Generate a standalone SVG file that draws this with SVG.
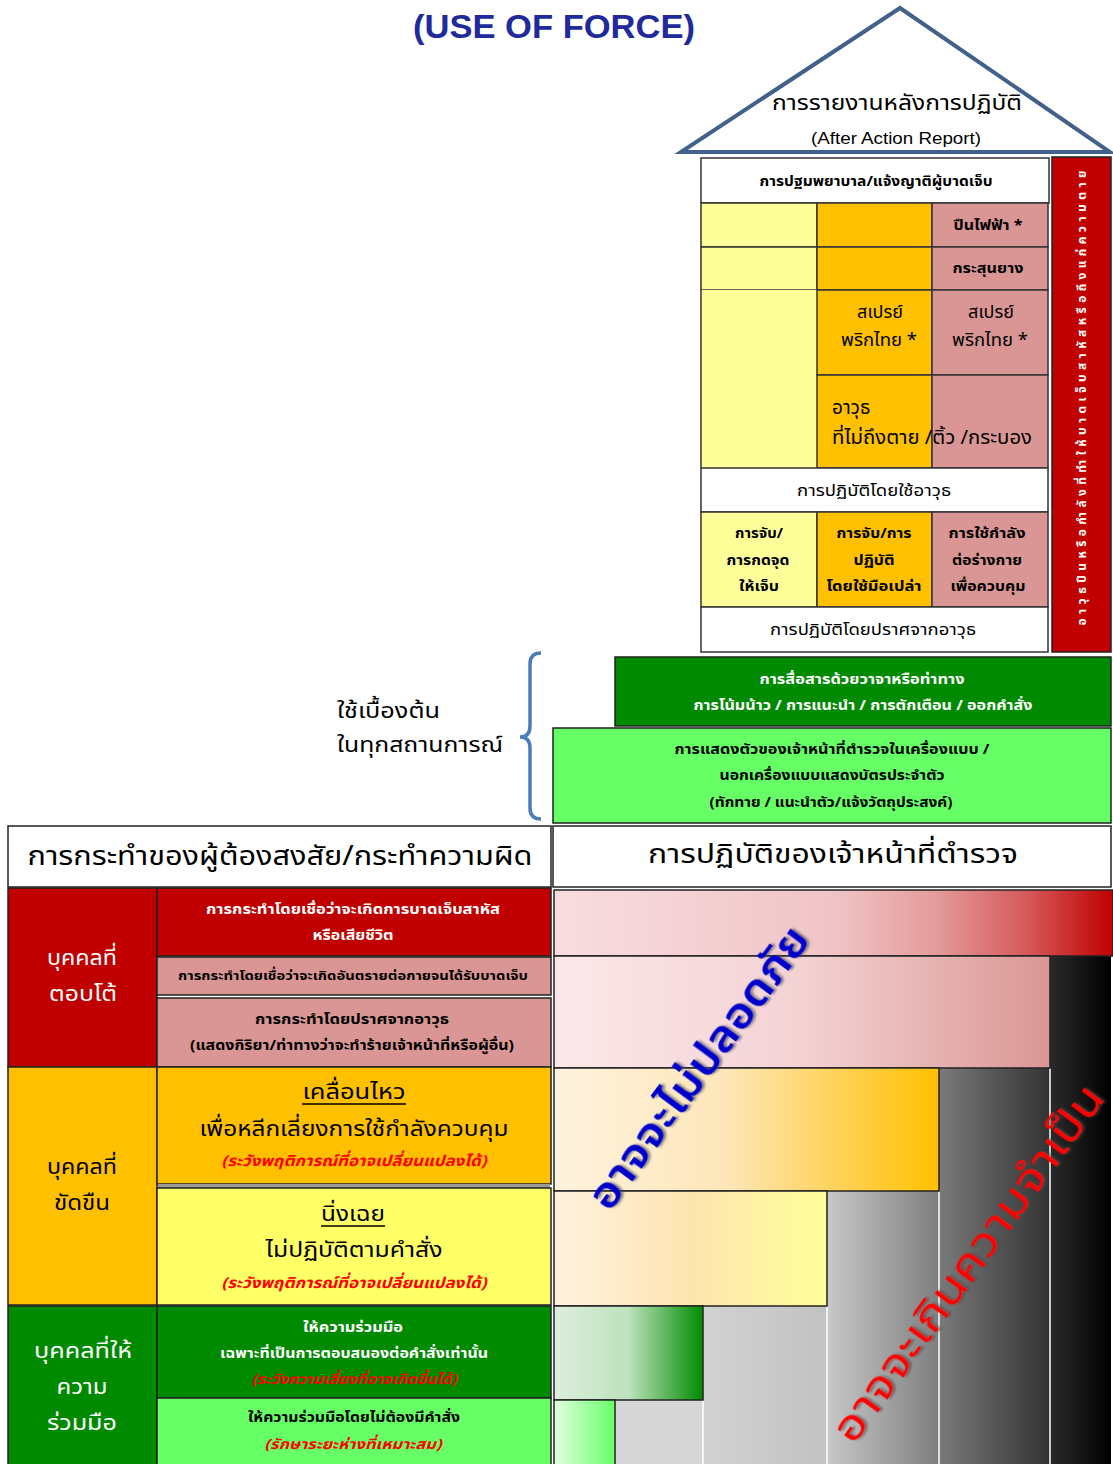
<svg xmlns="http://www.w3.org/2000/svg" width="1113" height="1464" viewBox="0 0 1113 1464">
<defs>
<style>
.t{font-family:"Noto Sans Thai","Noto Sans","Liberation Sans","DejaVu Sans",sans-serif;text-anchor:middle;fill:#000}
.s{text-anchor:start}
.b{font-weight:bold}
.w{fill:#fff}
.ri{fill:#ff0000;font-style:italic;font-weight:bold}
.cell{stroke:#333;stroke-width:1.5}
.box{stroke:#222;stroke-width:1.5}
</style>
<linearGradient id="gRed" x1="0" x2="1" y1="0" y2="0"><stop offset="0" stop-color="#f8dde0"/><stop offset="0.5" stop-color="#f0c4c6"/><stop offset="0.68" stop-color="#e49c9c"/><stop offset="0.85" stop-color="#d45858"/><stop offset="1" stop-color="#c00000"/></linearGradient>
<linearGradient id="gPink" x1="0" x2="1"><stop offset="0" stop-color="#fbe8ea"/><stop offset="0.5" stop-color="#f4d2d4"/><stop offset="1" stop-color="#da9694"/></linearGradient>
<linearGradient id="gOrange" x1="0" x2="1"><stop offset="0" stop-color="#fff3de"/><stop offset="0.45" stop-color="#fde6b8"/><stop offset="1" stop-color="#ffc000"/></linearGradient>
<linearGradient id="gYellow" x1="0" x2="1"><stop offset="0" stop-color="#fff2de"/><stop offset="0.5" stop-color="#fee4b0"/><stop offset="1" stop-color="#ffff99"/></linearGradient>
<linearGradient id="gGreen" x1="0" x2="1"><stop offset="0" stop-color="#ddeedd"/><stop offset="0.5" stop-color="#bde2bd"/><stop offset="1" stop-color="#008c00"/></linearGradient>
<linearGradient id="gLGreen" x1="0" x2="1"><stop offset="0" stop-color="#e2ffe2"/><stop offset="1" stop-color="#66ff66"/></linearGradient>
<linearGradient id="gBlack" x1="0" x2="1"><stop offset="0" stop-color="#2a2a2a"/><stop offset="1" stop-color="#000"/></linearGradient>
<linearGradient id="gGrey1" x1="0" x2="1"><stop offset="0" stop-color="#7a7a7a"/><stop offset="1" stop-color="#333"/></linearGradient>
<linearGradient id="gGrey2" x1="0" x2="1"><stop offset="0" stop-color="#c8c8c8"/><stop offset="1" stop-color="#7e7e7e"/></linearGradient>
<linearGradient id="gGrey3" x1="0" x2="1"><stop offset="0" stop-color="#d2d2d2"/><stop offset="1" stop-color="#c2c2c2"/></linearGradient>
<filter id="sh" x="-10%" y="-10%" width="120%" height="120%"><feDropShadow dx="2" dy="2" stdDeviation="1" flood-color="#444" flood-opacity="0.6"/></filter>
</defs>
<rect width="1113" height="1464" fill="#fff"/>

<g id="title"><text x="554" y="38" font-family="Liberation Sans, Arial, sans-serif" font-weight="bold" font-size="33" text-anchor="middle" fill="#1f2a9c" textLength="282" lengthAdjust="spacingAndGlyphs">(USE OF FORCE)</text></g>

<g id="roof">
<polygon points="900,8 681,152 1110,152" fill="#fff" stroke="#41618a" stroke-width="4" stroke-linejoin="miter"/>
<text class="t" x="897" y="110" font-size="22" textLength="250" lengthAdjust="spacingAndGlyphs">การรายงานหลังการปฏิบัติ</text>
<text x="896" y="144" font-family="Liberation Sans, Arial, sans-serif" font-size="17" text-anchor="middle" textLength="170" lengthAdjust="spacingAndGlyphs">(After Action Report)</text>
</g>

<g id="table">
<rect class="cell" x="701" y="158" width="348" height="45" fill="#fff"/>
<text class="t b" x="876" y="186" font-size="13.5" textLength="233" lengthAdjust="spacingAndGlyphs">การปฐมพยาบาล/แจ้งญาติผู้บาดเจ็บ</text>
<rect class="cell" x="701" y="203" width="116" height="44" fill="#ffff99"/>
<rect class="cell" x="817" y="203" width="115" height="44" fill="#ffc000"/>
<rect class="cell" x="932" y="203" width="116" height="44" fill="#da9694"/>
<text class="t b" x="988" y="230" font-size="14" textLength="69" lengthAdjust="spacingAndGlyphs">ปืนไฟฟ้า *</text>
<rect class="cell" x="701" y="247" width="116" height="43" fill="#ffff99"/>
<rect class="cell" x="817" y="247" width="115" height="43" fill="#ffc000"/>
<rect class="cell" x="932" y="247" width="116" height="43" fill="#da9694"/>
<text class="t b" x="988" y="273" font-size="14" textLength="71" lengthAdjust="spacingAndGlyphs">กระสุนยาง</text>
<rect x="701" y="290" width="116" height="178" fill="#ffff99"/>
<rect class="cell" x="817" y="290" width="115" height="85" fill="#ffc000"/>
<rect class="cell" x="932" y="290" width="116" height="85" fill="#da9694"/>
<text class="t" x="880" y="318" font-size="18">สเปรย์</text>
<text class="t" x="879" y="346" font-size="18" textLength="76" lengthAdjust="spacingAndGlyphs">พริกไทย *</text>
<text class="t" x="991" y="318" font-size="18">สเปรย์</text>
<text class="t" x="990" y="346" font-size="18" textLength="76" lengthAdjust="spacingAndGlyphs">พริกไทย *</text>
<rect class="cell" x="817" y="375" width="115" height="93" fill="#ffc000"/>
<rect class="cell" x="932" y="375" width="116" height="93" fill="#da9694"/>
<line class="cell" x1="701" y1="290" x2="701" y2="468"/>
<text class="t s" x="832" y="414" font-size="19">อาวุธ</text>
<text class="t s" x="832" y="444" font-size="19" textLength="200" lengthAdjust="spacingAndGlyphs">ที่ไม่ถึงตาย /ติ้ว /กระบอง</text>
<rect class="cell" x="701" y="468" width="347" height="44" fill="#fff"/>
<text class="t" x="874" y="496" font-size="16.5" textLength="154" lengthAdjust="spacingAndGlyphs">การปฏิบัติโดยใช้อาวุธ</text>
<rect class="cell" x="701" y="512" width="116" height="95" fill="#ffff99"/>
<rect class="cell" x="817" y="512" width="115" height="95" fill="#ffc000"/>
<rect class="cell" x="932" y="512" width="116" height="95" fill="#da9694"/>
<text class="t b" x="759" y="538" font-size="14" textLength="48" lengthAdjust="spacingAndGlyphs">การจับ/</text>
<text class="t b" x="758" y="565" font-size="14" textLength="63" lengthAdjust="spacingAndGlyphs">การกดจุด</text>
<text class="t b" x="759" y="591" font-size="14" textLength="40" lengthAdjust="spacingAndGlyphs">ให้เจ็บ</text>
<text class="t b" x="874" y="538" font-size="14" textLength="75" lengthAdjust="spacingAndGlyphs">การจับ/การ</text>
<text class="t b" x="874" y="565" font-size="14" textLength="41" lengthAdjust="spacingAndGlyphs">ปฏิบัติ</text>
<text class="t b" x="874" y="591" font-size="14" textLength="95" lengthAdjust="spacingAndGlyphs">โดยใช้มือเปล่า</text>
<text class="t b" x="987" y="538" font-size="14" textLength="77" lengthAdjust="spacingAndGlyphs">การใช้กำลัง</text>
<text class="t b" x="987" y="565" font-size="14" textLength="70" lengthAdjust="spacingAndGlyphs">ต่อร่างกาย</text>
<text class="t b" x="988" y="591" font-size="14" textLength="75" lengthAdjust="spacingAndGlyphs">เพื่อควบคุม</text>
<rect class="cell" x="701" y="607" width="347" height="45" fill="#fff"/>
<text class="t" x="873" y="635" font-size="16.5" textLength="206" lengthAdjust="spacingAndGlyphs">การปฏิบัติโดยปราศจากอาวุธ</text>
</g>

<g id="redbar">
<rect class="box" x="1052" y="157" width="59" height="495" fill="#c00000"/>
<text class="t b w" transform="translate(1086,398) rotate(-90)" font-size="12" textLength="455" lengthAdjust="spacing">อาวุธปืนหรือกำลังที่ทำให้บาดเจ็บสาหัสหรือถึงแก่ความตาย</text>
</g>

<g id="comm">
<rect class="box" x="615" y="657" width="496" height="69" fill="#008a00"/>
<text class="t b w" x="862" y="684" font-size="13.5" textLength="205" lengthAdjust="spacingAndGlyphs">การสื่อสารด้วยวาจาหรือท่าทาง</text>
<text class="t b w" x="863" y="710" font-size="13.5" textLength="339" lengthAdjust="spacingAndGlyphs">การโน้มน้าว  / การแนะนำ / การตักเตือน / ออกคำสั่ง</text>
</g>

<g id="presence">
<rect class="box" x="553" y="728" width="558" height="95" fill="#66ff66"/>
<text class="t b" x="832" y="754" font-size="13.5" textLength="315" lengthAdjust="spacingAndGlyphs">การแสดงตัวของเจ้าหน้าที่ตำรวจในเครื่องแบบ  /</text>
<text class="t b" x="832" y="780" font-size="13.5" textLength="225" lengthAdjust="spacingAndGlyphs">นอกเครื่องแบบแสดงบัตรประจำตัว</text>
<text class="t b" x="831" y="807" font-size="13.5" textLength="243" lengthAdjust="spacingAndGlyphs">(ทักทาย / แนะนำตัว/แจ้งวัตถุประสงค์)</text>
</g>

<g id="bracket">
<path d="M541,653 Q530,653 530,664 L530,726 Q530,737 520,737 Q530,737 530,748 L530,808 Q530,819 541,819" fill="none" stroke="#4a7ebb" stroke-width="3.5"/>
<text class="t s" x="337" y="718" font-size="22" textLength="103" lengthAdjust="spacingAndGlyphs">ใช้เบื้องต้น</text>
<text class="t s" x="337" y="752" font-size="22" textLength="166" lengthAdjust="spacingAndGlyphs">ในทุกสถานการณ์</text>
</g>

<g id="headers">
<rect class="box" x="8" y="826" width="543" height="61" fill="#fff"/>
<text class="t" x="280" y="865" font-size="27" textLength="505" lengthAdjust="spacingAndGlyphs">การกระทำของผู้ต้องสงสัย/กระทำความผิด</text>
<rect class="box" x="553" y="826" width="558" height="61" fill="#fff"/>
<text class="t" x="833" y="863" font-size="27" textLength="370" lengthAdjust="spacingAndGlyphs">การปฏิบัติของเจ้าหน้าที่ตำรวจ</text>
</g>

<g id="resist">
<rect class="box" x="8" y="888" width="149" height="179" fill="#c00000"/>
<text class="t w" x="82" y="965" font-size="22" textLength="70" lengthAdjust="spacingAndGlyphs">บุคคลที่</text>
<text class="t w" x="83" y="1001" font-size="22" textLength="68" lengthAdjust="spacingAndGlyphs">ตอบโต้</text>
<rect class="box" x="157" y="888" width="394" height="68" fill="#c00000"/>
<text class="t b w" x="353" y="914" font-size="13.5" textLength="294" lengthAdjust="spacingAndGlyphs">การกระทำโดยเชื่อว่าจะเกิดการบาดเจ็บสาหัส</text>
<text class="t b w" x="353" y="940" font-size="13.5" textLength="81" lengthAdjust="spacingAndGlyphs">หรือเสียชีวิต</text>
<rect class="box" x="157" y="957" width="394" height="38" fill="#da9694"/>
<text class="t b" x="353" y="980" font-size="13" textLength="350" lengthAdjust="spacingAndGlyphs">การกระทำโดยเชื่อว่าจะเกิดอันตรายต่อกายจนได้รับบาดเจ็บ</text>
<rect class="box" x="157" y="998" width="394" height="69" fill="#da9694"/>
<text class="t b" x="352" y="1024" font-size="13.5" textLength="194" lengthAdjust="spacingAndGlyphs">การกระทำโดยปราศจากอาวุธ</text>
<text class="t b" x="352" y="1050" font-size="13.5" textLength="324" lengthAdjust="spacingAndGlyphs">(แสดงกิริยา/ท่าทางว่าจะทำร้ายเจ้าหน้าที่หรือผู้อื่น)</text>
</g>

<g id="defy">
<rect class="box" x="8" y="1067" width="149" height="238" fill="#ffc000"/>
<text class="t" x="82" y="1174" font-size="22" textLength="70" lengthAdjust="spacingAndGlyphs">บุคคลที่</text>
<text class="t" x="82" y="1210" font-size="22" textLength="56" lengthAdjust="spacingAndGlyphs">ขัดขืน</text>
<rect class="box" x="157" y="1067" width="394" height="117" fill="#ffc000"/>
<rect x="158" y="1184" width="392" height="4" fill="#999"/>
<text class="t" x="354" y="1099" font-size="22" textLength="103" lengthAdjust="spacingAndGlyphs">เคลื่อนไหว</text>
<line x1="302" y1="1104" x2="406" y2="1104" stroke="#000" stroke-width="1.5"/>
<text class="t" x="354" y="1136" font-size="22" textLength="309" lengthAdjust="spacingAndGlyphs">เพื่อหลีกเลี่ยงการใช้กำลังควบคุม</text>
<text class="t ri" x="354" y="1166" font-size="15" textLength="265" lengthAdjust="spacingAndGlyphs">(ระวังพฤติการณ์ที่อาจเปลี่ยนแปลงได้)</text>
<rect class="box" x="157" y="1188" width="394" height="117" fill="#ffff66"/>
<text class="t" x="353" y="1221" font-size="22" textLength="64" lengthAdjust="spacingAndGlyphs">นิ่งเฉย</text>
<line x1="321" y1="1226" x2="385" y2="1226" stroke="#000" stroke-width="1.5"/>
<text class="t" x="354" y="1257" font-size="22" textLength="177" lengthAdjust="spacingAndGlyphs">ไม่ปฏิบัติตามคำสั่ง</text>
<text class="t ri" x="354" y="1288" font-size="15" textLength="265" lengthAdjust="spacingAndGlyphs">(ระวังพฤติการณ์ที่อาจเปลี่ยนแปลงได้)</text>
</g>

<g id="cooperate">
<rect class="box" x="8" y="1306" width="149" height="160" fill="#008a00"/>
<text class="t w" x="83" y="1358" font-size="22" textLength="98" lengthAdjust="spacingAndGlyphs">บุคคลที่ให้</text>
<text class="t w" x="82" y="1394" font-size="22" textLength="51" lengthAdjust="spacingAndGlyphs">ความ</text>
<text class="t w" x="82" y="1430" font-size="22" textLength="70" lengthAdjust="spacingAndGlyphs">ร่วมมือ</text>
<rect class="box" x="157" y="1306" width="394" height="92" fill="#008a00"/>
<text class="t b w" x="353" y="1332" font-size="13.5" textLength="100" lengthAdjust="spacingAndGlyphs">ให้ความร่วมมือ</text>
<text class="t b w" x="354" y="1358" font-size="13.5" textLength="268" lengthAdjust="spacingAndGlyphs">เฉพาะที่เป็นการตอบสนองต่อคำสั่งเท่านั้น</text>
<text class="t ri" x="354" y="1384" font-size="14" textLength="205" lengthAdjust="spacingAndGlyphs">(ระวังความเสี่ยงที่อาจเกิดขึ้นได้)</text>
<rect class="box" x="157" y="1398" width="394" height="68" fill="#66ff66"/>
<text class="t b" x="354" y="1422" font-size="13.5" textLength="212" lengthAdjust="spacingAndGlyphs">ให้ความร่วมมือโดยไม่ต้องมีคำสั่ง</text>
<text class="t ri" x="353" y="1449" font-size="14" textLength="177" lengthAdjust="spacingAndGlyphs">(รักษาระยะห่างที่เหมาะสม)</text>
</g>

<g id="scale">
<rect x="1050" y="956" width="61" height="508" fill="url(#gBlack)"/>
<rect x="939" y="1068" width="111" height="396" fill="url(#gGrey1)"/>
<rect x="827" y="1191" width="112" height="273" fill="url(#gGrey2)"/>
<rect x="703" y="1306" width="124" height="158" fill="url(#gGrey3)"/>
<rect x="615" y="1400" width="88" height="64" fill="#d6d6d6"/>
<g stroke="#fff" stroke-width="1.5">
<line x1="1050" y1="1068" x2="1050" y2="1464"/>
<line x1="939" y1="1191" x2="939" y2="1464"/>
<line x1="827" y1="1306" x2="827" y2="1464"/>
<line x1="703" y1="1400" x2="703" y2="1464"/>
</g>
<rect class="box" x="554" y="890" width="559" height="66" fill="url(#gRed)"/>
<rect class="box" x="554" y="956" width="496" height="112" fill="url(#gPink)"/>
<rect class="box" x="554" y="1068" width="385" height="123" fill="url(#gOrange)"/>
<rect class="box" x="554" y="1191" width="273" height="115" fill="url(#gYellow)"/>
<rect class="box" x="554" y="1306" width="149" height="94" fill="url(#gGreen)"/>
<rect class="box" x="554" y="1400" width="61" height="66" fill="url(#gLGreen)"/>
<text class="t" transform="translate(710,1076) rotate(-53.5)" font-size="42" font-weight="600" style="fill:#0000cc" filter="url(#sh)" textLength="340" lengthAdjust="spacingAndGlyphs">อาจจะไม่ปลอดภัย</text>
<text class="t" transform="translate(980,1272) rotate(-54)" font-size="42" style="fill:#ff0000" filter="url(#sh)" textLength="430" lengthAdjust="spacingAndGlyphs">อาจจะเกินความจำเป็น</text>
</g>
</svg>
